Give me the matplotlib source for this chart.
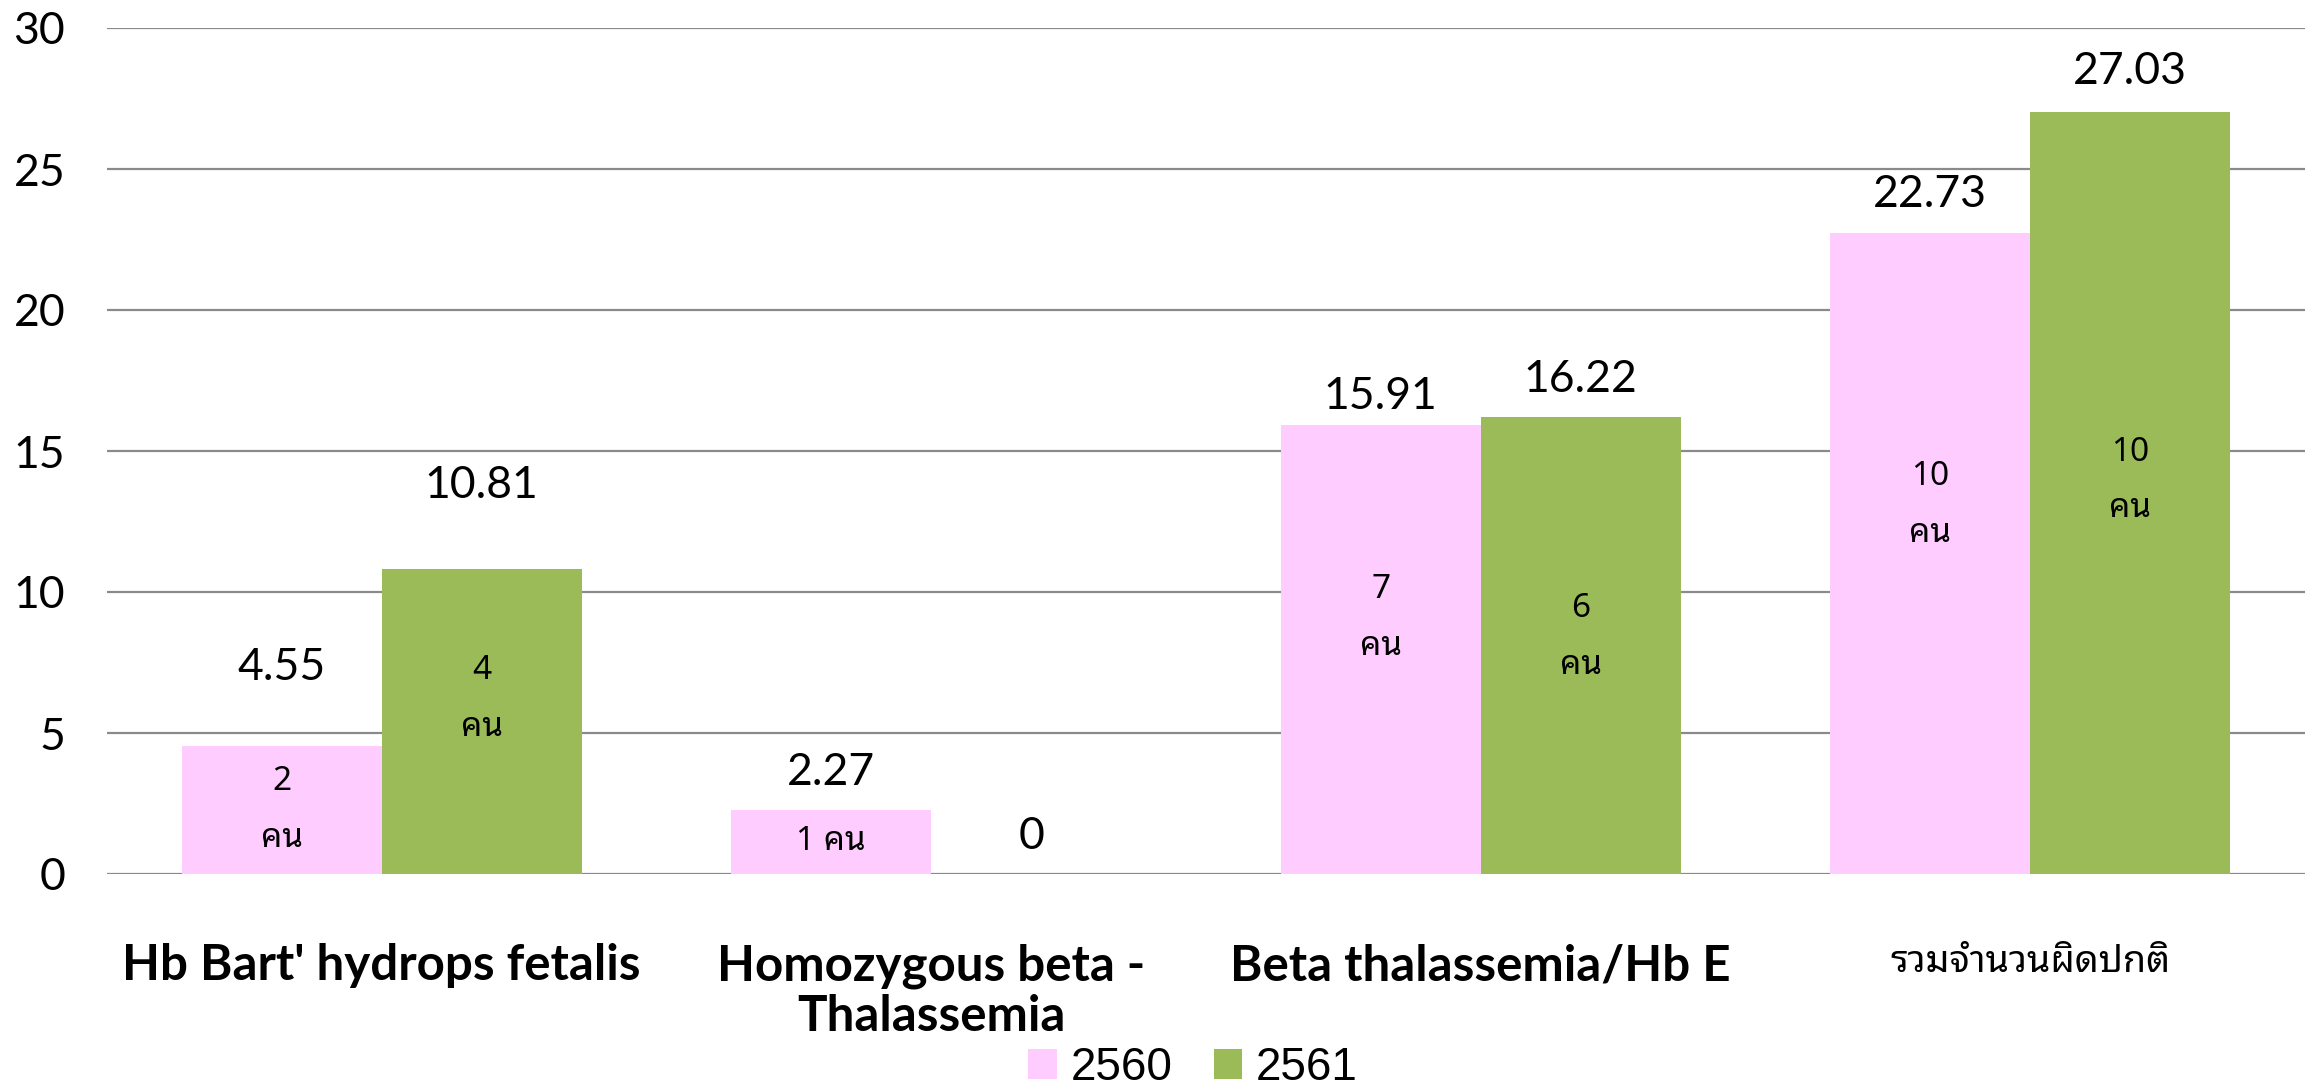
import matplotlib.pyplot as plt
import numpy as np

# data
categories = ["Hb Bart' hydrops fetalis", "Homozygous beta -\nThalassemia",
              "Beta thalassemia/Hb E", "รวมจำนวนผิดปกติ"]
years = ["2560", "2561"]
pct_2560 = [4.55, 2.27, 15.91, 22.73]
pct_2561 = [10.81, 0, 16.22, 27.03]
count_2560 = ["2\nคน", "1 คน", "7\nคน", "10\nคน"]
count_2561 = ["4\nคน", "", "6\nคน", "10\nคน"]

pink = "#FFCCFF"
green = "#9BBB59"
fonts = ["Lato", "Noto Sans Thai Looped", "DejaVu Sans"]
thai = ["Noto Sans Thai Looped", "Lato", "DejaVu Sans"]

fig = plt.figure(figsize=(23.18, 10.91), dpi=100)
ax = fig.add_axes([107 / 2318, 1 - 874 / 1091, (2305 - 107) / 2318, (874 - 28) / 1091])

x = np.arange(len(categories))
w = 0.364
b1 = ax.bar(x - w / 2, pct_2560, w, color=pink, label=years[0], zorder=2)
b2 = ax.bar(x + w / 2, pct_2561, w, color=green, label=years[1], zorder=2)

ax.set_ylim(0, 30)
ax.set_xlim(-0.5, 3.5)
ax.set_yticks(range(0, 31, 5))
ax.yaxis.grid(True, color="#8a8a8a", linewidth=1.6, zorder=0)
ax.set_axisbelow(True)
for s in ax.spines.values():
    s.set_visible(False)
ax.tick_params(axis="both", length=0)
ax.tick_params(axis="y", pad=30)
ax.tick_params(axis="x", pad=50)
for lab in ax.get_yticklabels():
    lab.set_family(fonts)
    lab.set_fontsize(32)

ax.set_xticks(x)
ax.set_xticklabels(categories)
for i, lab in enumerate(ax.get_xticklabels()):
    lab.set_linespacing(1.15)
    if i == 3:
        lab.set_family(thai)
        lab.set_fontsize(27)
    else:
        lab.set_family(fonts)
        lab.set_fontsize(35.5)
        lab.set_fontweight("bold")

# value labels above the bars (first group was lifted higher in the original)
lift_2560 = [56, 27, 21, 28]
lift_2561 = [60, 27, 27, 29]
# head-count labels sit roughly mid-bar, some nudged up by hand
nudge_2560 = [0, 0, 23, 35]
nudge_2561 = [16, 0, 6, 9]
for bars, vals, counts, lifts, nudges in ((b1, pct_2560, count_2560, lift_2560, nudge_2560),
                                          (b2, pct_2561, count_2561, lift_2561, nudge_2561)):
    for bar, v, c, lift, nudge in zip(bars, vals, counts, lifts, nudges):
        cx = bar.get_x() + bar.get_width() / 2
        h = bar.get_height()
        ax.annotate(f"{v:g}", (cx, h), xytext=(0, lift), textcoords="offset points",
                    ha="center", va="center", fontsize=32, family=fonts)
        if c:
            ax.annotate(c, (cx, h / 2), xytext=(0, nudge), textcoords="offset points",
                        ha="center", va="center", fontsize=24, family=thai,
                        linespacing=1.95)

leg = fig.legend(handles=[b1, b2], labels=years, loc="center",
                 bbox_to_anchor=(1193 / 2318, 1 - 1068 / 1091), ncol=2,
                 frameon=False, prop={"family": "Liberation Sans", "size": 33},
                 handlelength=0.62, handleheight=0.62, handletextpad=0.3,
                 columnspacing=0.9, borderpad=0.1)

fig.savefig("out.png", dpi=100)
